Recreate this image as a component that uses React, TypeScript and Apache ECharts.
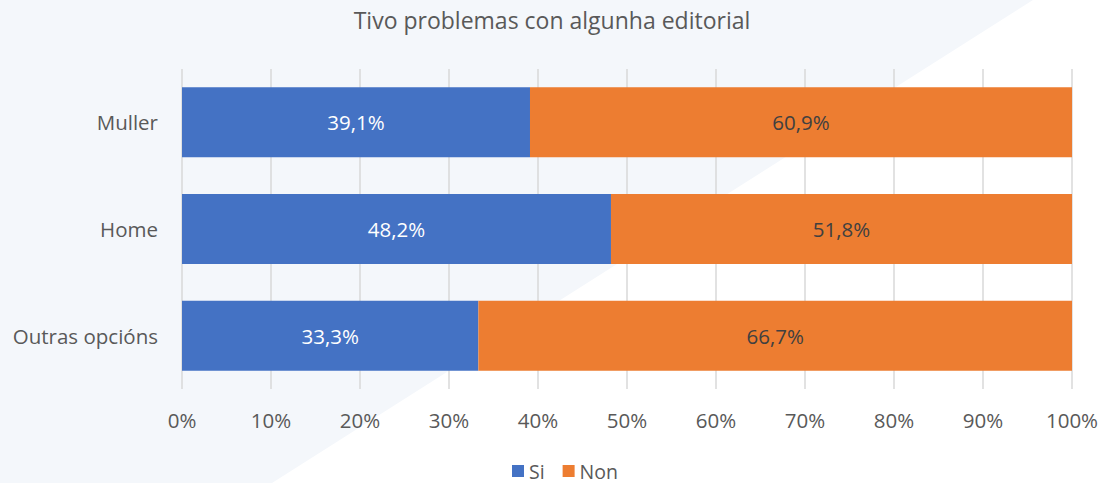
import React, { useEffect, useRef } from "react";
import * as echarts from "echarts";

const categories = ["Muller", "Home", "Outras opcións"];
const siValues = [39.1, 48.2, 33.3];
const nonValues = [60.9, 51.8, 66.7];
const xTicks = [0, 10, 20, 30, 40, 50, 60, 70, 80, 90, 100];
const titleText = "Tivo problemas con algunha editorial";
const FONT = "'Open Sans', 'Noto Sans', sans-serif";

const fmt = (v: number) => v.toFixed(1).replace(".", ",") + "%";

export default function App() {
  const ref = useRef<HTMLDivElement>(null);
  useEffect(() => {
    if (!ref.current) return;
    const chart = echarts.init(ref.current, undefined, { renderer: "svg" });
    chart.setOption({
      animation: false,
      backgroundColor: "#ffffff",
      textStyle: { fontFamily: FONT },
      graphic: [
        {
          type: "polygon",
          z: -10,
          silent: true,
          shape: { points: [[0, 0], [1033, 0], [272, 483], [0, 483]] },
          style: { fill: "#F4F7FB" },
        },
      ],
      title: {
        text: titleText,
        left: "center",
        top: 3,
        textStyle: { fontFamily: FONT, fontSize: 23, fontWeight: "normal", color: "#595959" },
      },
      legend: {
        bottom: 2,
        left: 507,
        padding: [0, 5, 0, 5],
        itemWidth: 12,
        itemHeight: 12,
        itemGap: 18,
        icon: "rect",
        textStyle: { fontFamily: FONT, fontSize: 19.5, lineHeight: 20, color: "#595959" },
        data: ["Si", "Non"],
      },
      grid: { left: 182, right: 32, top: 69, bottom: 94 },
      xAxis: {
        type: "value",
        min: 0,
        max: 100,
        interval: 10,
        axisLine: { show: false },
        axisTick: { show: false },
        splitLine: { show: true, lineStyle: { color: "#D9D9D9", width: 1.5 } },
        axisLabel: {
          margin: 20,
          fontFamily: FONT,
          fontSize: 20.5,
          color: "#595959",
          formatter: (v: number) => (xTicks.includes(v) ? v + "%" : ""),
        },
      },
      yAxis: {
        type: "category",
        inverse: true,
        data: categories,
        axisLine: { show: false },
        axisTick: { show: false },
        axisLabel: { margin: 24, fontFamily: FONT, fontSize: 20.5, color: "#595959" },
      },
      series: [
        {
          name: "Si",
          type: "bar",
          stack: "t",
          barWidth: 70,
          data: siValues,
          itemStyle: { color: "#4472C4" },
          label: {
            show: true,
            position: "inside",
            color: "#ffffff",
            fontFamily: FONT,
            fontSize: 20.5,
            formatter: (p: any) => fmt(p.value),
          },
        },
        {
          name: "Non",
          type: "bar",
          stack: "t",
          barWidth: 70,
          data: nonValues,
          itemStyle: { color: "#ED7D31" },
          label: {
            show: true,
            position: "inside",
            color: "#404040",
            fontFamily: FONT,
            fontSize: 20.5,
            formatter: (p: any) => fmt(p.value),
          },
        },
      ],
    });
    return () => chart.dispose();
  }, []);
  return (
    <div
      ref={ref}
      style={{ position: "fixed", left: 0, top: 0, width: 1104, height: 483 }}
    />
  );
}
